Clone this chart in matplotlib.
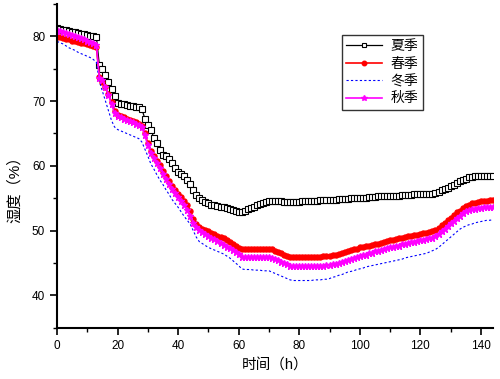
import numpy as np
import matplotlib
matplotlib.use('Agg')
import matplotlib.pyplot as plt
from matplotlib.ticker import MultipleLocator

plt.rcParams['font.family'] = ['Liberation Sans', 'Noto Sans CJK SC']

# hourly readings, 0..144 h
hours = np.arange(0, 145)

summer = [81.2, 81.1, 81.0, 80.9, 80.8, 80.7, 80.6, 80.5, 80.4, 80.3, 80.2, 80.1, 80.0, 79.9,
          75.5, 75.0, 74.0, 72.9, 71.8, 70.7, 69.7,
          69.6, 69.5, 69.4, 69.3, 69.2, 69.1, 69.0, 68.8,
          67.3, 66.3, 65.6, 64.3, 63.5, 62.4, 61.7, 61.5, 61.0, 60.4, 59.6, 59.0, 58.7, 58.4, 57.8, 57.2, 56.3, 55.5,
          55.0, 54.7, 54.4, 54.2, 54.0, 53.9, 53.8, 53.7, 53.6, 53.5, 53.4, 53.2, 53.0, 52.9, 52.8,
          53.1, 53.3, 53.5, 53.7, 53.9, 54.1, 54.3, 54.4, 54.5,
          54.5, 54.5, 54.5, 54.5, 54.4, 54.4, 54.4, 54.4, 54.4, 54.4,
          54.5, 54.5, 54.5, 54.6, 54.6, 54.6, 54.7, 54.7, 54.7, 54.8,
          54.8, 54.8, 54.9, 54.9, 54.9, 54.9, 55.0, 55.0, 55.0, 55.1,
          55.1, 55.1, 55.2, 55.2, 55.2, 55.3, 55.3, 55.3, 55.3, 55.4,
          55.4, 55.4, 55.4, 55.5, 55.5, 55.5, 55.5, 55.6, 55.6, 55.6,
          55.6, 55.7, 55.7, 55.7, 55.8, 56.0, 56.2, 56.4, 56.6, 56.9,
          57.1, 57.3, 57.6, 57.8, 58.0, 58.2, 58.3, 58.4, 58.4, 58.4, 58.4, 58.4, 58.4, 58.4]

spring = [79.9, 79.8, 79.7, 79.6, 79.5, 79.3, 79.2, 79.1, 79.0, 78.9, 78.8, 78.6, 78.5, 78.4,
          73.7, 73.0, 72.2, 71.1, 69.8, 68.5, 67.9,
          67.7, 67.5, 67.3, 67.1, 66.9, 66.7, 66.5, 66.2,
          65.0, 63.5, 62.3, 61.5, 60.8, 60.2, 59.2, 58.4, 57.6, 56.9, 56.3, 55.7, 55.2, 54.6, 54.0, 53.0, 51.8, 51.0,
          50.6, 50.3, 50.1, 49.9, 49.7, 49.5, 49.2, 49.0, 48.8, 48.5, 48.2, 47.9, 47.6, 47.3, 47.2,
          47.2, 47.2, 47.2, 47.2, 47.2, 47.2, 47.2, 47.2, 47.2,
          47.1, 46.9, 46.7, 46.5, 46.3, 46.1, 46.0, 45.9, 45.9, 45.9,
          45.9, 45.9, 46.0, 46.0, 46.0, 46.0, 46.0, 46.1, 46.1, 46.1,
          46.2, 46.3, 46.4, 46.5, 46.7, 46.8, 47.0, 47.1, 47.2, 47.4,
          47.5, 47.6, 47.7, 47.8, 47.9, 48.0, 48.1, 48.3, 48.4, 48.5,
          48.6, 48.7, 48.8, 48.9, 49.0, 49.1, 49.2, 49.3, 49.4, 49.5,
          49.6, 49.7, 49.8, 50.0, 50.1, 50.4, 50.8, 51.2, 51.6, 52.0,
          52.4, 52.8, 53.1, 53.5, 53.8, 54.0, 54.2, 54.3, 54.4, 54.5, 54.6, 54.6, 54.7, 54.8]

winter = [79.2, 79.0, 78.8, 78.5, 78.2, 78.0, 77.8, 77.5, 77.3, 77.1, 76.9, 76.7, 76.4, 76.0,
          73.0, 71.5, 70.0, 68.5, 67.0, 66.0, 65.6,
          65.4, 65.2, 65.0, 64.8, 64.6, 64.4, 64.2, 63.7,
          62.6, 61.5, 60.3, 59.5, 58.6, 57.8, 57.1, 56.3, 55.6, 54.8, 54.2, 53.6, 52.9, 52.2, 51.6, 51.0, 50.0, 49.0,
          48.3, 48.0, 47.7, 47.4, 47.2, 47.0, 46.8, 46.6, 46.4, 46.1, 45.8, 45.4, 45.0, 44.6, 44.1,
          44.0, 44.0, 44.0, 43.9, 43.9, 43.9, 43.8, 43.8, 43.8,
          43.6, 43.4, 43.2, 43.0, 42.8, 42.6, 42.4, 42.3, 42.3, 42.3,
          42.3, 42.3, 42.3, 42.3, 42.4, 42.4, 42.4, 42.5, 42.5, 42.6,
          42.8, 42.9, 43.1, 43.2, 43.4, 43.6, 43.7, 43.8, 44.0, 44.1,
          44.2, 44.4, 44.5, 44.6, 44.7, 44.8, 44.9, 45.0, 45.1, 45.2,
          45.3, 45.4, 45.5, 45.6, 45.8, 45.9, 46.0, 46.1, 46.2, 46.3,
          46.4, 46.5, 46.7, 46.9, 47.1, 47.4, 47.8, 48.2, 48.6, 49.0,
          49.4, 49.8, 50.2, 50.5, 50.7, 50.9, 51.0, 51.2, 51.3, 51.4, 51.5, 51.6, 51.6, 51.7]

autumn = [80.9, 80.8, 80.6, 80.5, 80.3, 80.2, 80.0, 79.8, 79.7, 79.5, 79.3, 79.1, 78.9, 78.7,
          73.6, 73.3, 72.1, 70.9, 69.5, 68.2, 67.7,
          67.5, 67.3, 67.1, 66.9, 66.7, 66.5, 66.3, 66.0,
          64.7, 63.2, 62.0, 61.2, 60.4, 59.7, 58.8, 58.0, 57.2, 56.4, 55.8, 55.2, 54.6, 53.9, 53.2, 52.2, 51.2, 50.5,
          50.1, 49.8, 49.5, 49.2, 48.9, 48.7, 48.4, 48.1, 47.8, 47.5, 47.3, 47.0, 46.7, 46.4, 46.0,
          45.9, 45.9, 45.9, 45.9, 45.9, 45.9, 45.9, 45.9, 45.9,
          45.8, 45.6, 45.4, 45.2, 45.0, 44.8, 44.6, 44.5, 44.5, 44.5,
          44.5, 44.5, 44.5, 44.5, 44.6, 44.6, 44.6, 44.6, 44.7, 44.7,
          44.8, 44.9, 45.0, 45.2, 45.3, 45.5, 45.6, 45.8, 45.9, 46.1,
          46.2, 46.3, 46.5, 46.6, 46.8, 46.9, 47.0, 47.1, 47.3, 47.4,
          47.5, 47.6, 47.7, 47.9, 48.0, 48.1, 48.2, 48.3, 48.4, 48.5,
          48.6, 48.7, 48.8, 48.9, 49.1, 49.5, 49.9, 50.3, 50.7, 51.1,
          51.5, 51.9, 52.3, 52.7, 53.0, 53.2, 53.3, 53.4, 53.5, 53.5, 53.6, 53.6, 53.7, 53.7]

labels = ['夏季', '春季', '冬季', '秋季']

fig = plt.figure(figsize=(5.0, 3.79), dpi=100)
ax = fig.add_axes([0.114, 0.135, 0.872, 0.855])

ax.plot(hours, summer, color='black', lw=0.9, marker='s', ms=3.8,
        mfc='white', mec='black', mew=0.8, label=labels[0])
ax.plot(hours, spring, color='red', lw=1.2, marker='o', ms=3.6,
        mfc='red', mec='red', label=labels[1])
ax.plot(hours, winter, color='blue', lw=0.8, ls=(0, (2, 2)), label=labels[2])
ax.plot(hours, autumn, color='magenta', lw=1.2, marker='*', ms=4.5,
        mfc='magenta', mec='magenta', label=labels[3])

ax.set_xlim(0, 144)
ax.set_ylim(35, 85)
ax.xaxis.set_major_locator(MultipleLocator(20))
ax.xaxis.set_minor_locator(MultipleLocator(10))
ax.yaxis.set_major_locator(MultipleLocator(10))
ax.yaxis.set_minor_locator(MultipleLocator(5))
ax.set_yticks([40, 50, 60, 70, 80])
ax.tick_params(which='major', direction='out', length=5, width=1.2, labelsize=8.5)
ax.tick_params(which='minor', direction='out', length=3, width=1.0)

for s in ['top', 'right']:
    ax.spines[s].set_visible(False)
for s in ['left', 'bottom']:
    ax.spines[s].set_linewidth(1.5)

ax.set_xlabel('时间（h）', fontsize=10.5, labelpad=5)
ax.set_ylabel('湿度（%）', fontsize=11, labelpad=7, y=0.44)

leg = ax.legend(loc='upper left', bbox_to_anchor=(0.654, 0.904), borderaxespad=0,
                fontsize=10, frameon=True, fancybox=False, edgecolor='black',
                handlelength=2.6, borderpad=0.3, labelspacing=0.25,
                handletextpad=0.6, markerscale=0.9)
leg.get_frame().set_linewidth(1.0)

fig.savefig('out.png', dpi=100)
